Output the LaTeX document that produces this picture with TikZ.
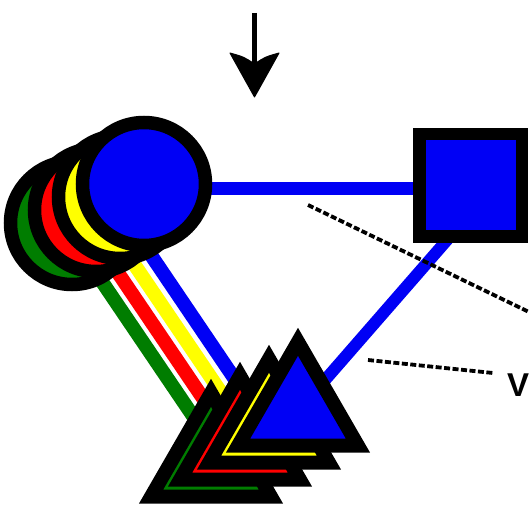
\documentclass[tikz,border=0pt]{standalone}
\usepackage{fontspec}
\setmainfont{Liberation Sans}
\usetikzlibrary{shapes.geometric,calc,backgrounds}
\definecolor{cblue}{RGB}{0,0,245}
\definecolor{cgreen}{RGB}{0,125,0}
\definecolor{cred}{RGB}{255,0,0}
\definecolor{cyellow}{RGB}{255,255,0}
\begin{document}
\begin{tikzpicture}[x=1pt,y=-1pt,
  ring/.style={circle,draw=black,line width=13.5pt,minimum size=123pt,inner sep=0pt},
  tri/.style={regular polygon,regular polygon sides=3,draw=black,line width=14pt,minimum size=138.4pt,inner sep=0pt},
  box/.style={rectangle,draw=black,line width=12.5pt,minimum size=102.5pt,inner sep=0pt,fill=cblue},
  link/.style={line width=14pt},
  guide/.style={line width=3.8pt,dash pattern=on 6pt off 2.5pt}]
\useasboundingbox (0,0) rectangle (529,508);
% circles (back to front)
\node[ring,fill=cgreen]  (cg) at (72,223) {};
\node[ring,fill=cred]    (cr) at (96,210) {};
\node[ring,fill=cyellow] (cy) at (120,197) {};
\node[ring,fill=cblue]   (cb) at (144,184) {};
% triangles (back to front)
\node[tri,fill=cgreen]  (tg) at (211,462) {};
\node[tri,fill=cred]    (tr) at (240,445) {};
\node[tri,fill=cyellow] (ty) at (269,428) {};
\node[tri,fill=cblue]   (tb) at (298,411) {};
% square
\node[box] (sq) at (470.5,185) {};
% label
\node[font=\bfseries\fontsize{33}{33}\selectfont,inner sep=0pt,anchor=west] (v) at (507,385) {V};
% connectors under the shapes
\begin{pgfonlayer}{background}
\draw[link,cgreen]  ($(cg.center)+(-5,7)$)  -- ($(tg.center)+(5,-12)$);
\draw[link,cred]    ($(cr.center)+(-7,20)$) -- ($(tr.center)+(-2,5)$);
\draw[link,cyellow] ($(cy.center)+(-9,33)$) -- ($(ty.center)+(-9,22)$);
\draw[link,cblue]   ($(cb.center)+(-10,46)$) -- ($(tb.center)+(-22,29)$);
\draw[line width=13pt,cblue] ($(cb.center)+(0,4)$) -- ($(sq.center)+(0,3)$);
\draw[line width=12pt,cblue] ($(sq.center)+(24.5,0)$) -- (tb.center);
\end{pgfonlayer}
% dashed guides
\coordinate (d1a) at (308,205);
\coordinate (d1b) at (560,327);
\draw[guide] (d1a) -- (d1b);
\coordinate (d2a) at (368,360);
\draw[guide] (d2a) -- ($(v.west)+(-14,-12)$);
% arrow
\coordinate (a0) at (254,13);
\coordinate (a1) at (254,64);
\draw[line width=5pt] (a0) -- (a1);
\filldraw[black,line width=1pt,line join=round] (230,53) -- (254.5,97) -- (279,53) .. controls (265,57) .. (254.5,64) .. controls (244,57) .. cycle;
\end{tikzpicture}
\end{document}
